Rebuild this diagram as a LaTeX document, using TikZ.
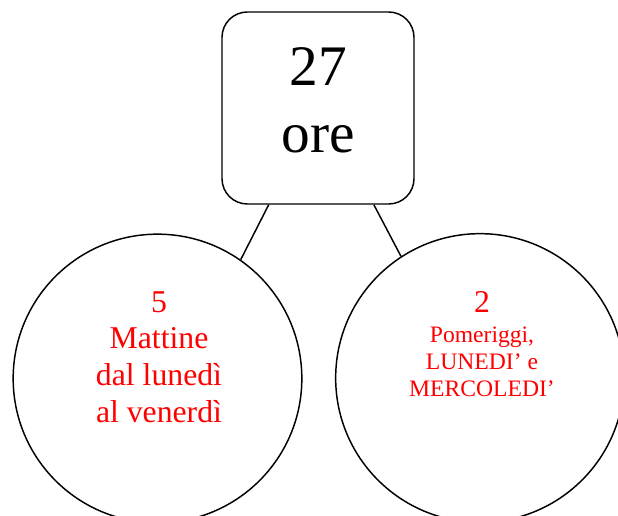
\documentclass[tikz,border=0pt]{standalone}
\usepackage{fontspec}
\setmainfont{Liberation Serif}
\usetikzlibrary{positioning}

\begin{document}
\begin{tikzpicture}[x=0.75pt,y=-0.75pt,line width=1.1pt,
  hours/.style={draw,rounded corners=19pt,minimum width=144pt,minimum height=144pt,inner sep=0pt},
  slot/.style={draw,circle,minimum size=216.5pt,inner sep=0pt},
  slottext/.style={text=red,align=center,inner sep=0pt}]
\useasboundingbox (0,0) rectangle (618,516);
\node[hours,align=center,text depth=12pt,font=\fontsize{43}{50}\selectfont] (tot) at (318,108) {27\\ore};
\node[slot] (mattine) at (157.5,378.5) {};
\node[slot] (pomeriggi) at (480,378) {};
\node[slottext,font=\fontsize{23.8}{27.5}\selectfont] (mattinetxt) at (159,357) {5\\Mattine\\dal lunedì\\al venerdì};
\node[slottext,font=\fontsize{17.7}{20.5}\selectfont] (pomeriggitxt) at (482,344)
  {{\fontsize{23.8}{27}\selectfont 2}\\[2pt]Pomeriggi,\\LUNEDI’ e\\MERCOLEDI’};
\draw (tot.243)--(mattine.55);
\draw (tot.300)--(pomeriggi.123);
\end{tikzpicture}
\end{document}
